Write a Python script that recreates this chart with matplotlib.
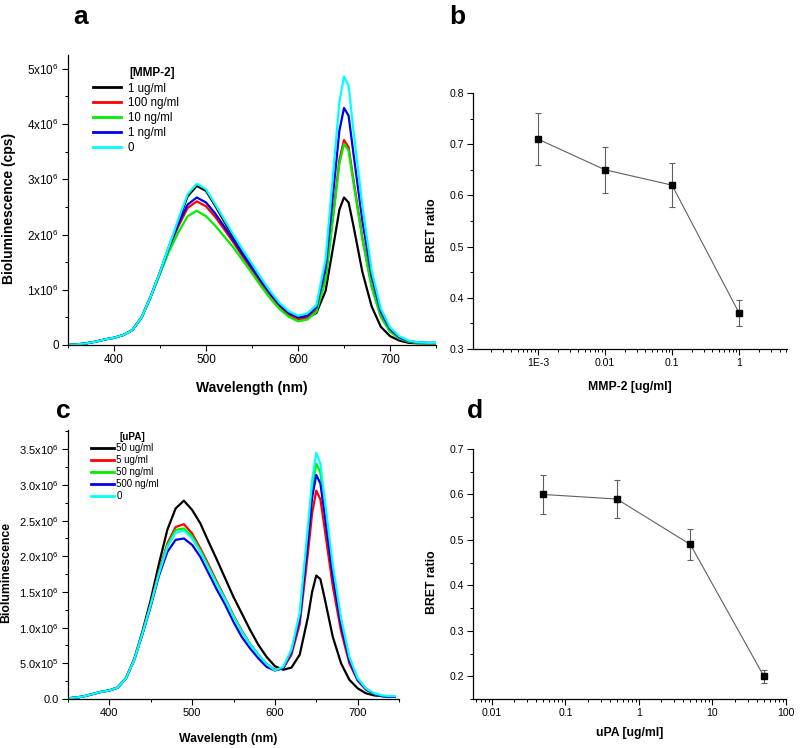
import numpy as np
import matplotlib
matplotlib.use("Agg")
import matplotlib.pyplot as plt
from matplotlib.ticker import FixedLocator, FixedFormatter, MultipleLocator, LogLocator, NullFormatter
from matplotlib.lines import Line2D

plt.rcParams['font.family'] = ['Liberation Sans', 'DejaVu Sans']
plt.rcParams['mathtext.fontset'] = 'custom'
plt.rcParams['mathtext.rm'] = 'Liberation Sans'
plt.rcParams['mathtext.it'] = 'Liberation Sans:italic'
plt.rcParams['mathtext.bf'] = 'Liberation Sans:bold'

# ---------------- Panel a: MMP-2 spectra (values in units of 1e6 cps) ----------------
wl_a = [350, 360, 370, 380, 390, 400, 410, 420, 430, 440,
        450, 460, 470, 480, 490, 500, 510, 520, 530, 540,
        550, 560, 570, 580, 590, 600, 610, 620, 630, 640,
        645, 650, 655, 660,
        670, 680, 690, 700, 710, 720, 730, 740, 750]

a_black = [0.00, 0.01, 0.03, 0.06, 0.10, 0.13, 0.18, 0.27, 0.50, 0.88,
           1.32, 1.79, 2.24, 2.69, 2.88, 2.79, 2.52, 2.23, 1.95, 1.68,
           1.43, 1.17, 0.93, 0.72, 0.56, 0.48, 0.49, 0.58, 0.98, 1.95,
           2.45, 2.67, 2.58, 2.18,
           1.32, 0.70, 0.33, 0.16, 0.08, 0.04, 0.03, 0.03, 0.03]
a_red = [0.00, 0.01, 0.03, 0.06, 0.10, 0.13, 0.18, 0.27, 0.50, 0.88,
         1.31, 1.77, 2.15, 2.48, 2.60, 2.51, 2.32, 2.09, 1.85, 1.60,
         1.36, 1.12, 0.90, 0.70, 0.55, 0.47, 0.49, 0.63, 1.22, 2.62,
         3.35, 3.71, 3.58, 3.02,
         1.94, 1.07, 0.52, 0.25, 0.12, 0.06, 0.04, 0.03, 0.03]
a_green = [0.00, 0.01, 0.03, 0.06, 0.10, 0.13, 0.18, 0.27, 0.50, 0.87,
           1.29, 1.70, 2.04, 2.33, 2.43, 2.33, 2.16, 1.96, 1.76, 1.53,
           1.30, 1.06, 0.84, 0.65, 0.51, 0.43, 0.46, 0.60, 1.18, 2.56,
           3.28, 3.64, 3.52, 2.97,
           1.91, 1.05, 0.51, 0.24, 0.12, 0.06, 0.04, 0.03, 0.03]
a_blue = [0.00, 0.01, 0.03, 0.06, 0.10, 0.13, 0.18, 0.27, 0.50, 0.88,
          1.31, 1.78, 2.20, 2.54, 2.67, 2.58, 2.38, 2.14, 1.89, 1.64,
          1.40, 1.16, 0.93, 0.73, 0.58, 0.50, 0.53, 0.68, 1.40, 3.05,
          3.88, 4.29, 4.15, 3.50,
          2.24, 1.25, 0.60, 0.29, 0.14, 0.07, 0.05, 0.04, 0.04]
a_cyan = [0.00, 0.01, 0.03, 0.06, 0.10, 0.13, 0.18, 0.27, 0.50, 0.88,
          1.32, 1.80, 2.28, 2.73, 2.92, 2.82, 2.55, 2.27, 1.99, 1.72,
          1.47, 1.21, 0.97, 0.76, 0.61, 0.53, 0.57, 0.72, 1.55, 3.45,
          4.40, 4.86, 4.70, 3.92,
          2.52, 1.35, 0.66, 0.32, 0.16, 0.08, 0.05, 0.04, 0.04]
a_labels = ['1 ug/ml', '100 ng/ml', '10 ng/ml', '1 ng/ml', '0']
a_title = '[MMP-2]'
a_yticks = [0, 1, 2, 3, 4, 5]
a_yticklabels = ['0', '1x10$^{6}$', '2x10$^{6}$', '3x10$^{6}$', '4x10$^{6}$', '5x10$^{6}$']

# ---------------- Panel b: BRET ratio vs MMP-2 ----------------
b_conc = [0.001, 0.01, 0.1, 1]
b_ratio = [0.71, 0.65, 0.62, 0.37]
b_err = [0.050, 0.045, 0.043, 0.026]
b_xticks = [0.001, 0.01, 0.1, 1]
b_xticklabels = ['1E-3', '0.01', '0.1', '1']

# ---------------- Panel c: uPA spectra (values in units of 1e6) ----------------
wl_c = [350, 360, 370, 380, 390, 400, 410, 420, 430, 440,
        450, 460, 470, 480, 490, 500, 510, 520, 530, 540,
        550, 560, 570, 580, 590, 600, 610, 620, 630, 640,
        645, 650, 655, 660,
        670, 680, 690, 700, 710, 720, 730, 740, 745]

c_black = [0.01, 0.02, 0.04, 0.07, 0.10, 0.12, 0.16, 0.29, 0.56, 0.95,
           1.39, 1.90, 2.37, 2.67, 2.78, 2.65, 2.46, 2.20, 1.95, 1.69,
           1.43, 1.20, 0.97, 0.76, 0.59, 0.46, 0.41, 0.44, 0.62, 1.15,
           1.50, 1.73, 1.68, 1.42,
           0.87, 0.50, 0.27, 0.15, 0.08, 0.05, 0.04, 0.03, 0.03]
c_red = [0.01, 0.02, 0.04, 0.07, 0.10, 0.12, 0.16, 0.29, 0.55, 0.92,
         1.33, 1.79, 2.18, 2.41, 2.45, 2.32, 2.11, 1.88, 1.64, 1.41,
         1.17, 0.96, 0.77, 0.62, 0.49, 0.41, 0.43, 0.62, 1.05, 2.05,
         2.60, 2.92, 2.80, 2.40,
         1.58, 0.95, 0.50, 0.26, 0.13, 0.07, 0.04, 0.03, 0.03]
c_green = [0.01, 0.02, 0.04, 0.07, 0.10, 0.12, 0.16, 0.29, 0.55, 0.92,
           1.32, 1.77, 2.15, 2.37, 2.39, 2.28, 2.08, 1.85, 1.62, 1.40,
           1.16, 0.95, 0.77, 0.62, 0.49, 0.40, 0.44, 0.67, 1.16, 2.33,
           2.95, 3.30, 3.17, 2.72,
           1.80, 1.08, 0.57, 0.28, 0.14, 0.07, 0.04, 0.03, 0.03]
c_blue = [0.01, 0.02, 0.04, 0.07, 0.10, 0.12, 0.16, 0.29, 0.55, 0.91,
          1.30, 1.73, 2.06, 2.23, 2.25, 2.16, 1.99, 1.76, 1.53, 1.32,
          1.08, 0.87, 0.71, 0.57, 0.45, 0.40, 0.43, 0.66, 1.12, 2.22,
          2.82, 3.14, 3.02, 2.60,
          1.72, 1.03, 0.54, 0.27, 0.14, 0.07, 0.04, 0.03, 0.03]
c_cyan = [0.01, 0.02, 0.04, 0.07, 0.10, 0.12, 0.16, 0.29, 0.55, 0.92,
          1.32, 1.76, 2.13, 2.33, 2.36, 2.25, 2.06, 1.83, 1.60, 1.39,
          1.15, 0.94, 0.76, 0.62, 0.49, 0.40, 0.45, 0.69, 1.20, 2.42,
          3.06, 3.45, 3.30, 2.82,
          1.88, 1.13, 0.59, 0.29, 0.15, 0.08, 0.05, 0.04, 0.04]
c_labels = ['50 ug/ml', '5 ug/ml', '50 ng/ml', '500 ng/ml', '0']
c_title = '[uPA]'
c_yticks = [0, 0.5, 1.0, 1.5, 2.0, 2.5, 3.0, 3.5]
c_yticklabels = ['0.0', '5.0x10$^{5}$', '1.0x10$^{6}$', '1.5x10$^{6}$', '2.0x10$^{6}$',
                 '2.5x10$^{6}$', '3.0x10$^{6}$', '3.5x10$^{6}$']

# ---------------- Panel d: BRET ratio vs uPA ----------------
d_conc = [0.05, 0.5, 5, 50]
d_ratio = [0.60, 0.59, 0.49, 0.20]
d_err = [0.042, 0.041, 0.035, 0.014]
d_xticks = [0.01, 0.1, 1, 10, 100]
d_xticklabels = ['0.01', '0.1', '1', '10', '100']

series_colors = ['#000000', '#ff0000', '#00ee00', '#0000ee', '#00ffff']

fig = plt.figure(figsize=(8.0, 7.48), dpi=100)


def style(ax, tsize):
    for s in ['top', 'right']:
        ax.spines[s].set_visible(False)
    for s in ['left', 'bottom']:
        ax.spines[s].set_linewidth(0.9)
    ax.tick_params(which='major', direction='out', length=4.5, width=0.8, labelsize=tsize, pad=2)
    ax.tick_params(which='minor', direction='out', length=2.5, width=0.7)


# ---- a ----
axa = fig.add_axes([0.085, 0.5388, 0.46, 0.3877])
for ys, col in zip([a_black, a_red, a_green, a_blue, a_cyan], series_colors):
    axa.plot(wl_a, ys, color=col, lw=1.6, solid_joinstyle='round')
axa.set_xlim(350, 750)
axa.set_ylim(0, 5.25)
axa.xaxis.set_major_locator(MultipleLocator(100))
axa.xaxis.set_minor_locator(MultipleLocator(50))
axa.yaxis.set_major_locator(FixedLocator(a_yticks))
axa.yaxis.set_major_formatter(FixedFormatter(a_yticklabels))
axa.yaxis.set_minor_locator(MultipleLocator(0.5))
style(axa, 8.5)
axa.set_xlabel('Wavelength (nm)', fontsize=10, fontweight='bold')
axa.set_ylabel('Bioluminescence (cps)', fontsize=10, fontweight='bold')
axa.xaxis.set_label_coords(0.5, -0.125)
axa.yaxis.set_label_coords(-0.14, 0.472)
handles = [Line2D([], [], color=c, lw=2.0) for c in series_colors]
axa.legend(handles, a_labels, loc='upper left', bbox_to_anchor=(0.068, 0.905),
           frameon=False, fontsize=8.3, handlelength=2.4, handletextpad=0.6,
           labelspacing=0.25, borderpad=0, borderaxespad=0)
axa.text(0.166, 0.938, a_title, transform=axa.transAxes, fontsize=8.5,
         fontweight='bold', ha='left', va='center')

# ---- b ----
axb = fig.add_axes([0.591, 0.5334, 0.393, 0.3423])
axb.errorbar(b_conc, b_ratio, yerr=b_err, color='#606060', lw=0.8, elinewidth=0.8,
             capsize=2.2, capthick=0.8, marker='s', ms=4.2, mfc='black', mec='black')
axb.set_xscale('log')
axb.set_xlim(10 ** -3.97, 10 ** 0.716)
axb.set_ylim(0.3, 0.8)
axb.xaxis.set_major_locator(FixedLocator(b_xticks))
axb.xaxis.set_major_formatter(FixedFormatter(b_xticklabels))
axb.xaxis.set_minor_locator(LogLocator(base=10, subs=np.arange(2, 10)))
axb.xaxis.set_minor_formatter(NullFormatter())
axb.yaxis.set_major_locator(MultipleLocator(0.1))
axb.yaxis.set_minor_locator(MultipleLocator(0.05))
axb.yaxis.set_major_formatter(plt.FormatStrFormatter('%.1f'))
style(axb, 7.6)
axb.set_xlabel('MMP-2 [ug/ml]', fontsize=8.8, fontweight='bold')
axb.set_ylabel('BRET ratio', fontsize=8.8, fontweight='bold')
axb.xaxis.set_label_coords(0.5, -0.125)
axb.yaxis.set_label_coords(-0.111, 0.465)

# ---- c ----
axc = fig.add_axes([0.085, 0.0655, 0.41375, 0.3596])
for ys, col in zip([c_black, c_red, c_green, c_blue, c_cyan], series_colors):
    axc.plot(wl_c, ys, color=col, lw=1.6, solid_joinstyle='round')
axc.set_xlim(350, 750)
axc.set_ylim(0, 3.77)
axc.xaxis.set_major_locator(MultipleLocator(100))
axc.xaxis.set_minor_locator(MultipleLocator(50))
axc.yaxis.set_major_locator(FixedLocator(c_yticks))
axc.yaxis.set_major_formatter(FixedFormatter(c_yticklabels))
axc.yaxis.set_minor_locator(MultipleLocator(0.25))
style(axc, 8.0)
axc.set_xlabel('Wavelength (nm)', fontsize=8.8, fontweight='bold')
axc.set_ylabel('Bioluminescence', fontsize=8.8, fontweight='bold')
axc.xaxis.set_label_coords(0.485, -0.126)
axc.yaxis.set_label_coords(-0.169, 0.472)
axc.legend(handles, c_labels, loc='upper left', bbox_to_anchor=(0.07, 0.95),
           frameon=False, fontsize=7.0, handlelength=2.3, handletextpad=0.3,
           labelspacing=0.2, borderpad=0, borderaxespad=0)
axc.text(0.157, 0.974, c_title, transform=axc.transAxes, fontsize=7.2,
         fontweight='bold', ha='left', va='center')

# ---- d ----
axd = fig.add_axes([0.591, 0.0655, 0.3915, 0.3342])
axd.errorbar(d_conc, d_ratio, yerr=d_err, color='#606060', lw=0.8, elinewidth=0.8,
             capsize=2.2, capthick=0.8, marker='s', ms=4.2, mfc='black', mec='black')
axd.set_xscale('log')
axd.set_xlim(10 ** -2.26, 100)
axd.set_ylim(0.15, 0.7)
axd.xaxis.set_major_locator(FixedLocator(d_xticks))
axd.xaxis.set_major_formatter(FixedFormatter(d_xticklabels))
axd.xaxis.set_minor_locator(LogLocator(base=10, subs=np.arange(2, 10)))
axd.xaxis.set_minor_formatter(NullFormatter())
axd.yaxis.set_major_locator(FixedLocator([0.2, 0.3, 0.4, 0.5, 0.6, 0.7]))
axd.yaxis.set_minor_locator(MultipleLocator(0.05))
axd.yaxis.set_major_formatter(plt.FormatStrFormatter('%.1f'))
style(axd, 7.6)
axd.set_xlabel('uPA [ug/ml]', fontsize=8.8, fontweight='bold')
axd.set_ylabel('BRET ratio', fontsize=8.8, fontweight='bold')
axd.xaxis.set_label_coords(0.5, -0.112)
axd.yaxis.set_label_coords(-0.112, 0.468)

# panel letters
for lab, x, y in [('a', 81, 17), ('b', 457, 17), ('c', 63, 411), ('d', 475, 411)]:
    fig.text(x / 800, 1 - y / 748, lab, fontsize=19, fontweight='bold', ha='center', va='center')

fig.savefig('out.png', dpi=100)
